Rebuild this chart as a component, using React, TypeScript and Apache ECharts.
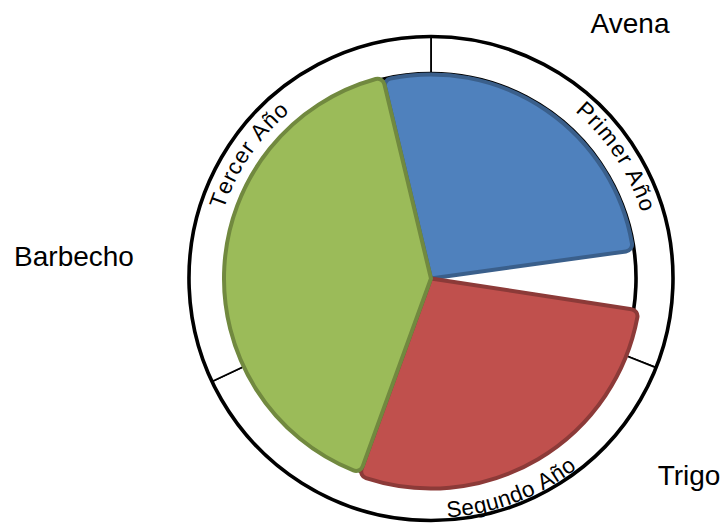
import React, { useEffect, useRef } from 'react';
import * as echarts from 'echarts';

// ---- data ----
const ringCategories = ['Avena', 'Trigo', 'Barbecho'];
const ringValues = [31, 37, 32];
const yearLabels = ['Primer Año', 'Segundo Año', 'Tercer Año'];
const sliceNames = ['Primer Año', 'hueco', 'Segundo Año', 'Tercer Año'];
const sliceValues = [95.6, 16.6, 101.3, 146.5];

// ---- layout / style ----
const CX = 431;
const CY = 278.5;
const R_IN = 205;
const R_OUT = 242;
const SLICE_START = 103.5;
const FONT_FAMILY = '"Liberation Sans", Arial, sans-serif';
const sliceColors = ['#4F81BD', 'transparent', '#C0504D', '#9BBB59'];
const sliceBorders = ['#3A5F8B', 'transparent', '#8C3A38', '#71893F'];
const sliceRadius = [204, 0, 210, 207];
const outerLabelPos = [
  [630, 23],
  [689, 475.5],
  [74, 256.5],
];
const yearArcs = [
  { from: 49.5, to: 17.2, r: 228, inward: false },
  { from: -86.2, to: -52.4, r: 232, inward: true },
  { from: 161.8, to: 130.2, r: 226, inward: false },
];
const YEAR_FONT_SIZE = 22.5;

function buildCurvedText() {
  const canvas = document.createElement('canvas');
  const ctx = canvas.getContext('2d');
  const font = `${YEAR_FONT_SIZE}px ${FONT_FAMILY}`;
  if (ctx) ctx.font = font;
  const elems: any[] = [];
  yearArcs.forEach((arc, k) => {
    const chars = Array.from(yearLabels[k]);
    const widths = chars.map((c) => (ctx ? ctx.measureText(c).width : YEAR_FONT_SIZE * 0.55));
    const total = widths.reduce((a, b) => a + b, 0);
    let acc = 0;
    chars.forEach((c, i) => {
      const f = (acc + widths[i] / 2) / total;
      acc += widths[i];
      if (c === ' ') return;
      const th = ((arc.from + (arc.to - arc.from) * f) * Math.PI) / 180;
      const x = CX + arc.r * Math.cos(th);
      const y = CY - arc.r * Math.sin(th);
      const rot = arc.inward ? th + Math.PI / 2 : th - Math.PI / 2;
      elems.push({
        type: 'text',
        x,
        y,
        rotation: rot,
        z: 100,
        silent: true,
        style: {
          text: c,
          font,
          fill: '#000',
          align: 'center',
          verticalAlign: 'middle',
        },
      });
    });
  });
  return elems;
}

export default function App() {
  const ref = useRef<HTMLDivElement>(null);

  useEffect(() => {
    if (!ref.current) return;
    const chart = echarts.init(ref.current, undefined, { renderer: 'svg' });

    const sliceSeries = [0, 2, 3].map((idx) => ({
      type: 'pie',
      center: [CX, CY],
      radius: sliceRadius[idx],
      startAngle: SLICE_START,
      clockwise: true,
      silent: true,
      z: 5 + idx,
      avoidLabelOverlap: false,
      label: { show: false },
      labelLine: { show: false },
      emphasis: { disabled: true },
      data: sliceNames.map((n, i) => ({
        name: n,
        value: sliceValues[i],
        itemStyle:
          i === idx
            ? {
                color: sliceColors[i],
                borderColor: sliceBorders[i],
                borderWidth: 4,
                borderRadius: [0, 7],
              }
            : { color: 'transparent', borderWidth: 0 },
      })),
    }));

    const option: any = {
      animation: false,
      backgroundColor: '#ffffff',
      series: [
        {
          type: 'pie',
          center: [CX, CY],
          radius: [R_IN, R_OUT],
          startAngle: 90,
          clockwise: true,
          silent: true,
          z: 1,
          avoidLabelOverlap: false,
          emphasis: { disabled: true },
          itemStyle: { color: '#ffffff', borderColor: '#000000', borderWidth: 1.75 },
          label: {
            show: true,
            position: 'outside',
            formatter: '{b}',
            fontSize: 28,
            fontFamily: FONT_FAMILY,
            color: '#000000',
          },
          labelLine: { show: false },
          labelLayout: (p: any) => ({
            x: outerLabelPos[p.dataIndex][0],
            y: outerLabelPos[p.dataIndex][1],
            align: 'center',
            verticalAlign: 'middle',
          }),
          data: ringCategories.map((n, i) => ({ name: n, value: ringValues[i] })),
        },
        {
          type: 'pie',
          center: [CX, CY],
          radius: [R_IN, R_OUT],
          startAngle: 90,
          silent: true,
          z: 2,
          emphasis: { disabled: true },
          itemStyle: { color: 'transparent', borderColor: '#000000', borderWidth: 3.6 },
          label: { show: false },
          labelLine: { show: false },
          data: [{ name: 'anillo', value: 1 }],
        },
        ...sliceSeries,
      ],
      graphic: buildCurvedText(),
    };

    chart.setOption(option);
    return () => chart.dispose();
  }, []);

  return (
    <div
      ref={ref}
      style={{ position: 'fixed', left: 0, top: 0, width: 725, height: 532 }}
    />
  );
}
